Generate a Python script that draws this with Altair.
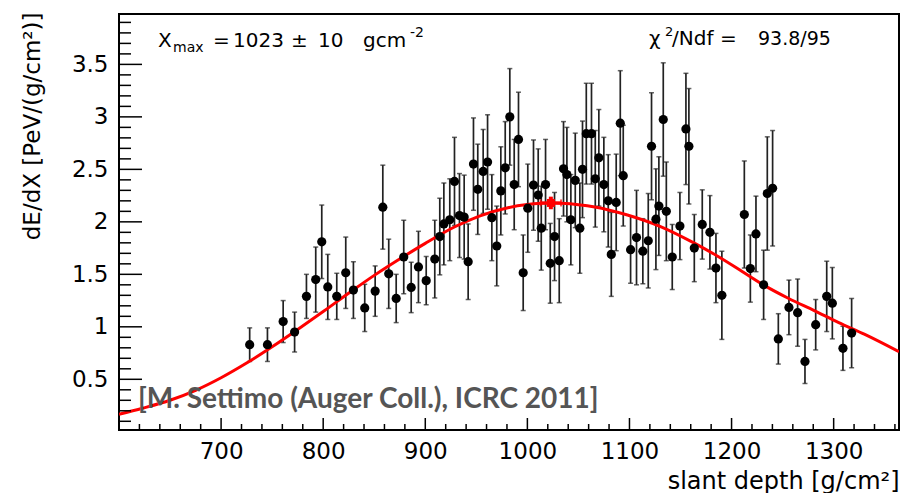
import altair as alt
import pandas as pd

# ---- data ----
depth = [728.0, 745.4, 760.8, 772.0, 783.6, 792.7, 798.6, 804.5, 813.3, 822.1,
         829.6, 840.7, 850.9, 858.4, 864.2, 871.5, 878.9, 886.2, 893.3, 900.9,
         909.3, 914.2, 918.2, 924.0, 928.6, 933.5, 938.1, 942.0, 947.2, 951.4,
         956.7, 961.0, 965.2, 970.0, 974.0, 978.3, 982.8, 987.1, 991.3, 995.9,
         1000.4, 1006.0, 1010.6, 1013.6, 1017.8, 1022.4, 1026.6, 1031.2, 1035.4, 1038.7,
         1042.6, 1046.9, 1051.4, 1054.0, 1057.7, 1062.8, 1066.5, 1070.0, 1074.9, 1079.2,
         1082.2, 1087.0, 1091.0, 1093.9, 1101.1, 1106.9, 1113.1, 1118.4, 1121.6, 1125.9,
         1128.8, 1133.1, 1136.1, 1141.9, 1149.4, 1155.3, 1158.2, 1163.5, 1171.3, 1178.8,
         1184.7, 1190.5, 1212.5, 1218.4, 1223.9, 1231.4, 1235.0, 1240.2, 1245.8, 1256.2,
         1264.7, 1271.9, 1282.4, 1293.2, 1298.7, 1309.1, 1317.6]
dedx = [0.83, 0.83, 1.05, 0.95, 1.29, 1.45, 1.81, 1.38, 1.29, 1.515,
        1.35, 1.18, 1.34, 2.14, 1.505, 1.27, 1.665, 1.375, 1.57, 1.44,
        1.645, 1.86, 1.98, 2.02, 2.385, 2.06, 2.045, 1.62, 2.55, 2.31,
        2.48, 2.57, 2.04, 1.77, 2.295, 2.515, 3.00, 2.355, 2.785, 1.515,
        2.13, 2.35, 2.255, 1.94, 2.355, 1.605, 1.86, 1.63, 2.505, 2.45,
        2.02, 2.395, 1.94, 2.50, 2.84, 2.84, 2.41, 2.61, 2.355, 2.20,
        1.69, 2.185, 2.94, 2.44, 1.735, 1.85, 1.72, 1.82, 2.72, 2.025,
        2.15, 2.975, 2.10, 1.665, 1.96, 2.885, 2.72, 1.75, 1.975, 1.90,
        1.56, 1.30, 2.07, 1.555, 1.885, 1.40, 2.27, 2.32, 0.885, 1.185,
        1.135, 0.67, 1.02, 1.29, 1.225, 0.795, 0.94]
err = [0.16, 0.16, 0.20, 0.19, 0.21, 0.31, 0.35, 0.31, 0.22, 0.34,
       0.27, 0.225, 0.24, 0.40, 0.33, 0.23, 0.35, 0.24, 0.34, 0.23,
       0.37, 0.365, 0.39, 0.39, 0.42, 0.40, 0.40, 0.36, 0.44, 0.43,
       0.40, 0.45, 0.41, 0.38, 0.42, 0.44, 0.46, 0.43, 0.45, 0.36,
       0.42, 0.43, 0.44, 0.40, 0.43, 0.38, 0.42, 0.40, 0.45, 0.45,
       0.43, 0.45, 0.43, 0.46, 0.48, 0.48, 0.46, 0.46, 0.45, 0.44,
       0.40, 0.46, 0.50, 0.48, 0.32, 0.45, 0.31, 0.45, 0.51, 0.48,
       0.47, 0.54, 0.47, 0.31, 0.32, 0.53, 0.55, 0.32, 0.33, 0.35,
       0.33, 0.42, 0.51, 0.32, 0.36, 0.33, 0.54, 0.55, 0.24, 0.26,
       0.32, 0.21, 0.24, 0.335, 0.34, 0.21, 0.33]

fit_x = [600, 623, 650, 675, 700, 725, 750, 775, 800, 830, 850, 880, 900, 929,
         953, 981, 1000, 1014, 1023, 1033, 1050, 1066, 1098, 1131, 1164, 1186,
         1210, 1232, 1256, 1281, 1305, 1330, 1364]
fit_y = [0.167, 0.224, 0.30, 0.395, 0.515, 0.655, 0.81, 0.975, 1.145, 1.355, 1.49,
         1.677, 1.795, 1.953, 2.055, 2.135, 2.165, 2.176, 2.18, 2.176, 2.163,
         2.142, 2.065, 1.953, 1.795, 1.675, 1.53, 1.395, 1.27, 1.155, 1.04, 0.93, 0.763]

xmax_val = [1023.0]
xmax_err = [10.0]
xmax_y = [2.18]
xmax_yerr = [0.06]

x_major = [700, 800, 900, 1000, 1100, 1200, 1300]
x_minor = [v for v in range(620, 1361, 20) if v % 100 != 0]
y_major = [0.5, 1.0, 1.5, 2.0, 2.5, 3.0, 3.5]
y_minor = [round(v / 10, 1) for v in range(1, 40) if v % 5 != 0]

x_title = "slant depth [g/cm²]"
y_title = "dE/dX [PeV/(g/cm²)]"
credit = "[M. Settimo (Auger Coll.), ICRC 2011]"

W, H = 780, 416
FONT = "DejaVu Sans"

df = pd.DataFrame({"x": depth, "y": dedx, "e": err})
df["lo"] = df["y"] - df["e"]
df["hi"] = df["y"] + df["e"]
fit = pd.DataFrame({"x": fit_x, "y": fit_y})
xm = pd.DataFrame({"x": xmax_val, "e": xmax_err, "y": xmax_y, "ye": xmax_yerr})
xm["xl"] = xm["x"] - xm["e"]
xm["xh"] = xm["x"] + xm["e"]
xm["yl"] = xm["y"] - xm["ye"]
xm["yh"] = xm["y"] + xm["ye"]

xs = alt.Scale(domain=[600, 1364], nice=False, zero=False)
ys = alt.Scale(domain=[0.017, 3.98], nice=False, zero=False)

xaxis = alt.Axis(values=x_major, ticks=False, domain=False, grid=False,
                 labelFont=FONT, labelFontSize=23, labelColor="black", labelPadding=10,
                 labelExpr="'' + datum.value",
                 title=x_title, titleFont=FONT, titleFontSize=24, titleFontWeight="normal",
                 titleColor="black", titleX=W, titleY=58, titleAlign="right",
                 titleBaseline="alphabetic")
yaxis = alt.Axis(values=y_major, ticks=False, domain=False, grid=False,
                 labelFont=FONT, labelFontSize=23, labelColor="black", labelPadding=11,
                 labelExpr="'' + datum.value",
                 title=y_title, titleFont=FONT, titleFontSize=23, titleFontWeight="normal",
                 titleColor="black", titleAngle=270, titleX=-80, titleY=-2,
                 titleAlign="right", titleBaseline="alphabetic")


def X(f):
    return alt.X(f, scale=xs, axis=xaxis)


def Y(f):
    return alt.Y(f, scale=ys, axis=yaxis)


ebar_color = "#222222"
red = "#ff0000"

errbars = alt.Chart(df).mark_rule(color=ebar_color, strokeWidth=1.7).encode(
    x=X("x:Q"), y=Y("lo:Q"), y2="hi:Q")
cap_lo = alt.Chart(df).mark_tick(orient="horizontal", size=5, thickness=1.5, color=ebar_color).encode(
    x=X("x:Q"), y=Y("lo:Q"))
cap_hi = alt.Chart(df).mark_tick(orient="horizontal", size=5, thickness=1.5, color=ebar_color).encode(
    x=X("x:Q"), y=Y("hi:Q"))
points = alt.Chart(df).mark_circle(size=85, color="black", opacity=1).encode(
    x=X("x:Q"), y=Y("y:Q"))

curve = alt.Chart(fit).mark_line(color=red, strokeWidth=3, interpolate="monotone", clip=True).encode(
    x=X("x:Q"), y=Y("y:Q"))

xm_h = alt.Chart(xm).mark_rule(color=red, strokeWidth=3).encode(
    x=X("xl:Q"), x2="xh:Q", y=Y("y:Q"))
xm_v = alt.Chart(xm).mark_rule(color=red, strokeWidth=4).encode(
    x=X("x:Q"), y=Y("yl:Q"), y2="yh:Q")
xm_cap1 = alt.Chart(xm).mark_tick(orient="vertical", size=7, thickness=2, color=red).encode(
    x=X("xl:Q"), y=Y("y:Q"))
xm_cap2 = alt.Chart(xm).mark_tick(orient="vertical", size=7, thickness=2, color=red).encode(
    x=X("xh:Q"), y=Y("y:Q"))
xm_pt = alt.Chart(xm).mark_square(size=64, color=red, opacity=1).encode(
    x=X("x:Q"), y=Y("y:Q"))


# inward axis ticks
def yticks(vals, length):
    return alt.Chart(pd.DataFrame({"v": vals})).mark_rule(color="black", strokeWidth=1.5).encode(
        y=Y("v:Q"), x=alt.value(0), x2=alt.value(length))


def xticks(vals, length):
    return alt.Chart(pd.DataFrame({"v": vals})).mark_rule(color="black", strokeWidth=1.5).encode(
        x=X("v:Q"), y=alt.value(H), y2=alt.value(H - length))


one = pd.DataFrame({"a": [0]})


def label(text, x, y, size, **kw):
    return alt.Chart(one).mark_text(text=text, font=FONT, fontSize=size, align="left",
                                    baseline="alphabetic", color="black", **kw).encode(
        x=alt.value(x), y=alt.value(y))


texts = [
    label("X", 39, 33, 20),
    label("max", 54, 38, 14),
    label("=", 94, 33, 20),
    label("1023", 114, 33, 20),
    label("±", 172, 33, 20),
    label("10", 199, 33, 20),
    label("gcm", 244, 33, 20),
    label("-2", 291, 23, 14),
    label("χ", 530, 31, 20),
    label("2", 546, 22, 13),
    label("/Ndf", 553, 31, 20),
    label("=", 601, 31, 20),
    label("93.8/95", 639, 31, 19),
]
credit_txt = alt.Chart(one).mark_text(text=credit, font="Lato", fontSize=28, fontWeight="bold",
                                      align="left", baseline="alphabetic", color="#555555").encode(
    x=alt.value(19), y=alt.value(394))

chart = alt.layer(
    errbars, cap_lo, cap_hi, curve, xm_h, xm_v, xm_cap1, xm_cap2, xm_pt, points,
    yticks(y_minor, 12), yticks(y_major, 23), xticks(x_minor, 6), xticks(x_major, 12),
    credit_txt, *texts,
).properties(
    width=W, height=H,
    padding={"left": 119, "top": 14, "right": 4, "bottom": 63},
    autosize=alt.AutoSizeParams(type="none"),
    background="white",
).configure_view(stroke="black", strokeWidth=2)

chart.save("out.html", embed_options={"renderer": "svg", "actions": False})
